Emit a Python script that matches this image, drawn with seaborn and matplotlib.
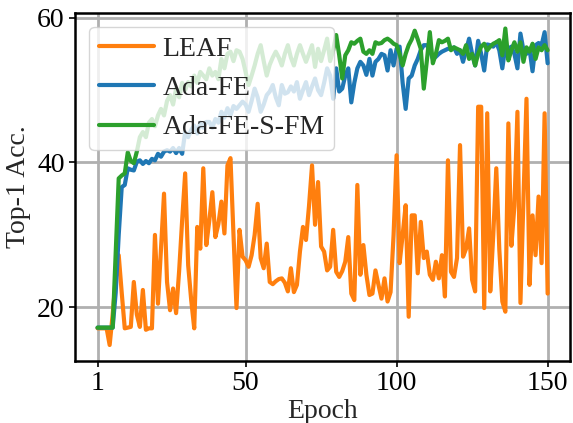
import numpy as np
import pandas as pd
import seaborn as sns
import matplotlib.pyplot as plt

# values
epochs = list(range(1, 151))

leaf = [17.1, 17.1, 17.1, 17.1, 14.8, 19.0, 24.0, 27.2, 22.0, 17.1,
        17.2, 17.3, 23.5, 19.0, 17.3, 22.4, 16.9, 17.1, 17.1, 30.0,
        20.5, 28.0, 35.7, 23.5, 19.6, 22.6, 19.2, 25.0, 32.0, 38.5,
        25.8, 21.0, 17.1, 31.1, 28.1, 39.2, 28.6, 32.0, 35.9, 29.7,
        31.5, 34.6, 30.2, 39.6, 40.6, 30.0, 19.9, 30.7, 27.0, 26.5,
        25.6, 27.2, 30.0, 34.3, 26.8, 25.4, 28.8, 23.5, 23.2, 23.6,
        23.9, 24.0, 23.4, 22.2, 25.4, 22.1, 23.1, 27.7, 31.1, 29.3,
        34.0, 39.6, 31.4, 37.3, 28.4, 27.7, 25.1, 25.6, 30.7, 24.9,
        24.2, 25.0, 26.3, 29.7, 21.9, 21.0, 36.9, 24.5, 28.6, 24.5,
        21.7, 21.9, 25.1, 23.1, 21.2, 24.0, 20.8, 22.1, 30.0, 41.0,
        26.1, 30.0, 34.1, 18.7, 32.7, 32.7, 24.7, 31.8, 26.8, 27.7,
        24.5, 23.8, 26.3, 24.0, 27.2, 21.5, 40.3, 24.9, 24.2, 26.8,
        42.4, 27.0, 28.1, 30.9, 23.8, 22.2, 47.7, 47.7, 19.9, 46.8,
        22.2, 30.0, 39.2, 28.0, 20.8, 19.4, 45.4, 28.5, 34.0, 47.0,
        20.6, 35.0, 48.8, 23.1, 32.7, 27.2, 35.3, 26.1, 46.8, 21.9]

ada_fe = [17.2, 17.2, 17.2, 17.2, 17.2, 17.2, 22.0, 30.0, 36.6, 36.9,
          39.2, 39.0, 38.9, 40.1, 40.3, 39.8, 40.2, 39.9, 40.5, 40.3,
          41.2, 40.8, 41.5, 41.7, 41.5, 42.0, 41.3, 42.0, 41.2, 44.2,
          43.5, 44.5, 45.1, 44.0, 45.5, 44.8, 45.6, 45.6, 44.8, 46.0,
          45.5, 47.0, 46.2, 47.5, 46.5, 47.8, 47.4, 47.9, 48.4, 48.0,
          47.0, 48.5, 50.2, 49.0, 47.0, 48.0, 49.3, 49.8, 50.7, 49.0,
          47.9, 50.7, 49.5, 49.7, 50.5, 49.8, 51.1, 48.8, 50.0, 51.1,
          49.3, 50.5, 51.6, 50.0, 49.3, 51.0, 53.0, 52.0, 48.8, 53.0,
          49.8, 50.2, 52.0, 53.0, 48.3, 51.0, 53.0, 53.9, 53.4, 52.1,
          54.3, 52.0, 53.9, 54.3, 55.0, 54.8, 52.7, 55.5, 53.4, 55.7,
          56.0, 51.0, 47.4, 51.6, 52.0, 53.4, 54.3, 55.5, 56.2, 56.2,
          55.5, 54.3, 54.6, 55.0, 55.3, 55.5, 55.7, 55.7, 55.9, 55.0,
          55.5, 53.9, 55.5, 57.1, 55.0, 53.4, 56.8, 55.0, 52.7, 56.3,
          56.2, 56.0, 56.6, 55.5, 53.0, 56.0, 55.7, 56.0, 55.0, 53.0,
          57.8, 55.5, 55.0, 55.7, 52.6, 56.2, 56.5, 56.2, 58.0, 53.7]

ada_fe_s_fm = [17.2, 17.2, 17.2, 17.2, 17.2, 17.2, 27.5, 37.8, 38.2, 38.5,
               41.4, 40.2, 39.9, 41.5, 43.5, 44.2, 43.5, 45.5, 46.0, 45.0,
               46.5, 47.4, 46.5, 48.5, 49.3, 48.0, 50.2, 49.0, 51.0, 50.0,
               51.1, 50.5, 52.0, 51.0, 52.5, 52.0, 51.5, 53.0, 52.0, 52.5,
               51.5, 54.3, 53.0, 55.0, 55.3, 54.0, 55.5, 55.3, 54.3, 52.5,
               50.7, 52.0, 53.4, 55.0, 56.2, 54.0, 52.0, 53.5, 54.5, 55.3,
               54.5, 53.4, 55.0, 56.2, 54.5, 53.4, 55.0, 56.2, 55.0, 53.9,
               55.0, 56.2, 53.2, 55.7, 54.0, 55.5, 57.1, 54.0, 55.5, 57.6,
               54.8, 51.6, 54.8, 55.5, 56.6, 56.4, 56.8, 57.1, 55.3, 55.0,
               55.5, 55.0, 56.6, 56.4, 56.5, 56.9, 57.1, 56.8, 56.4, 56.2,
               55.0, 53.4, 55.0, 56.2, 57.0, 58.2, 57.0, 55.7, 50.2, 54.0,
               58.0, 53.7, 55.0, 56.9, 56.6, 56.8, 57.1, 55.5, 55.9, 55.7,
               55.5, 55.0, 56.2, 54.3, 55.0, 53.4, 55.0, 56.0, 56.4, 55.5,
               56.0, 56.4, 56.6, 56.9, 54.8, 58.5, 54.1, 55.5, 56.6, 55.3,
               56.6, 53.9, 55.9, 55.3, 56.4, 54.3, 55.9, 55.5, 56.2, 55.5]

methods = ["LEAF", "Ada-FE", "Ada-FE-S-FM"]
colors = ["#ff7f0e", "#1f77b4", "#2ca02c"]
x_ticks = [1, 50, 100, 150]
y_ticks = [20, 40, 60]

df = pd.DataFrame({
    "Epoch": epochs * 3,
    "Acc": leaf + ada_fe + ada_fe_s_fm,
    "Method": [m for m in methods for _ in epochs],
})

sns.set_theme(style="ticks")
plt.rcParams["font.family"] = "serif"
plt.rcParams["font.serif"] = ["Liberation Serif", "DejaVu Serif"]

fig = plt.figure(figsize=(5.73, 4.23), dpi=100)
ax = fig.add_axes([0.131, 0.147, 0.864, 0.823])

sns.lineplot(data=df, x="Epoch", y="Acc", hue="Method", hue_order=methods,
             palette=colors, linewidth=3, estimator=None, sort=False, ax=ax)

ax.grid(True, color="#b0b0b0", linewidth=2)
ax.set_axisbelow(True)
ax.set_xticks(x_ticks)
ax.set_yticks(y_ticks)
ax.set_xlabel("Epoch", fontsize=20, labelpad=2)
ax.set_ylabel("Top-1 Acc.", fontsize=20)
ax.tick_params(labelsize=20, direction="out", length=4, width=1.2, colors="black")
for s in ax.spines.values():
    s.set_visible(True)
    s.set_color("black")
    s.set_linewidth(1.8)

leg = ax.legend(loc="upper left", fontsize=20, framealpha=0.8, fancybox=True,
                handletextpad=0.3, borderpad=0.35)
for line in leg.get_lines():
    line.set_linewidth(3)

fig.savefig("out.png", dpi=100)
